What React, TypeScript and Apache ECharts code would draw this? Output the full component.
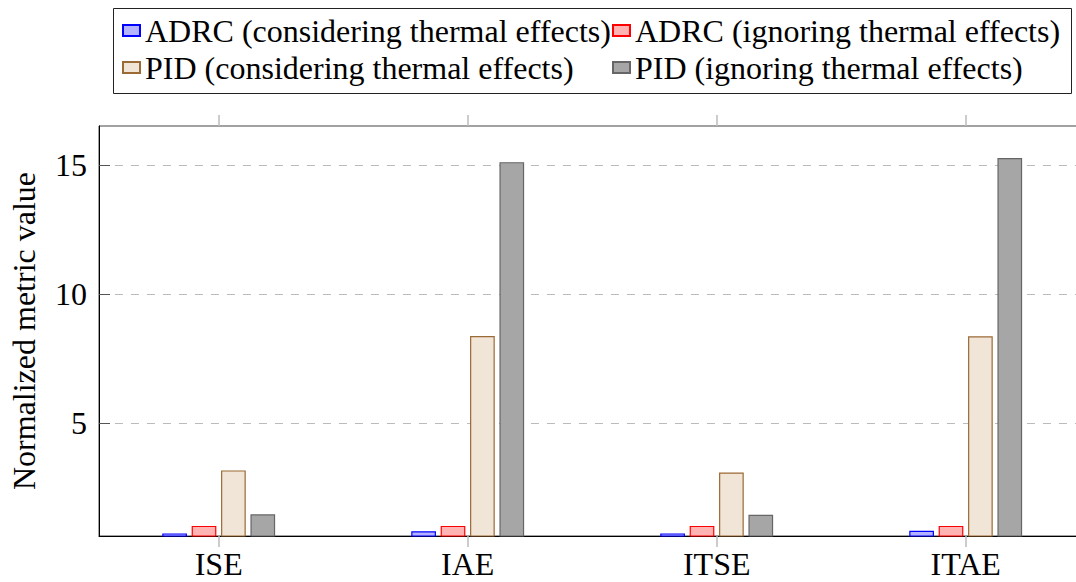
import React, { useEffect, useRef } from "react";
import * as echarts from "echarts";

const categories = ["ISE", "IAE", "ITSE", "ITAE"];
const seriesNames = [
  "ADRC (considering thermal effects)",
  "ADRC (ignoring thermal effects)",
  "PID (considering thermal effects)",
  "PID (ignoring thermal effects)",
];
const adrcConsidering = [0.74, 0.82, 0.74, 0.84];
const adrcIgnoring = [1.03, 1.03, 1.03, 1.03];
const pidConsidering = [3.18, 8.38, 3.1, 8.37];
const pidIgnoring = [1.48, 15.11, 1.46, 15.27];
const yTicks = [5, 10, 15];
const yMin = 0.64;
const yMax = 16.51;
const yTitle = "Normalized metric value";

const FONT = "'Liberation Serif', 'Times New Roman', serif";
const FS = 32;

export default function App() {
  const ref = useRef<HTMLDivElement>(null);
  useEffect(() => {
    if (!ref.current) return;
    const chart = echarts.init(ref.current, null, { renderer: "svg" });
    const styles = [
      { color: "#b3b3ff", borderColor: "#0000ff" },
      { color: "#ffb3b3", borderColor: "#ff0000" },
      { color: "#f1e5d8", borderColor: "#9c6a35" },
      { color: "#a6a6a6", borderColor: "#666666" },
    ];
    const values = [adrcConsidering, adrcIgnoring, pidConsidering, pidIgnoring];
    const legendBase = {
      orient: "vertical" as const,
      top: 12,
      icon: "rect",
      itemWidth: 17,
      itemHeight: 11,
      itemGap: 0,
      padding: 0,
      selectedMode: false,
      textStyle: { fontSize: FS, lineHeight: 37, fontFamily: FONT, color: "#000" },
    };
    chart.setOption({
      animation: false,
      backgroundColor: "#fff",
      textStyle: { fontFamily: FONT },
      grid: [
        { left: 99, top: 126, width: 986, height: 410, show: true, borderColor: "#444", borderWidth: 1, backgroundColor: "transparent", outerBoundsMode: "none", containLabel: false },
        { left: 94.2, top: 126, width: 996, height: 410, outerBoundsMode: "none", containLabel: false },
      ],
      legend: [
        { ...legendBase, left: 122, data: [seriesNames[0], seriesNames[2]] },
        { ...legendBase, left: 612, data: [seriesNames[1], seriesNames[3]] },
      ],
      xAxis: [
        {
          gridIndex: 0,
          type: "value",
          min: 0,
          max: 1,
          axisLine: { show: true, lineStyle: { color: "#000", width: 1 } },
          axisTick: { show: false },
          axisLabel: { show: false },
          splitLine: { show: false },
        },
        {
          gridIndex: 1,
          type: "category",
          data: categories,
          position: "bottom",
          axisLine: { show: false },
          axisTick: { show: true, alignWithLabel: true, length: 11, lineStyle: { color: "#bbb", width: 1.5 } },
          axisLabel: { fontSize: FS, lineHeight: 30, fontFamily: FONT, color: "#000", margin: 13 },
          splitLine: { show: false },
        },
        {
          gridIndex: 1,
          type: "category",
          data: categories,
          position: "top",
          axisLine: { show: false },
          axisTick: { show: true, alignWithLabel: true, length: 11, lineStyle: { color: "#bbb", width: 1.5 } },
          axisLabel: { show: false },
          splitLine: { show: false },
        },
      ],
      yAxis: [
        {
          gridIndex: 0,
          type: "value",
          min: yMin,
          max: yMax,
          axisLine: { show: true, lineStyle: { color: "#000", width: 1 } },
          axisTick: { show: true, inside: true, length: 11, customValues: yTicks, lineStyle: { color: "#555", width: 1 } },
          axisLabel: { customValues: yTicks, fontSize: FS, fontFamily: FONT, color: "#000", margin: 12 },
          splitLine: { show: true, lineStyle: { color: "#bbb", type: [8, 8], width: 1 } },
        },
        {
          gridIndex: 1,
          type: "value",
          min: yMin,
          max: yMax,
          show: false,
          splitLine: { show: false },
        },
      ],
      series: values.map((v, i) => ({
        name: seriesNames[i],
        type: "bar",
        xAxisIndex: 1,
        yAxisIndex: 1,
        data: v,
        barWidth: 24.7,
        barGap: "19%",
        z: 3,
        itemStyle: { color: styles[i].color, borderColor: styles[i].borderColor, borderWidth: 1.2 },
      })),
      graphic: [
        {
          type: "rect",
          shape: { x: 113.5, y: 8.5, width: 958, height: 85 },
          style: { fill: "none", stroke: "#222", lineWidth: 1 },
          z: 10,
        },
        {
          type: "text",
          x: 24,
          y: 331,
          rotation: Math.PI / 2,
          style: {
            text: yTitle,
            fontSize: FS,
            fontFamily: FONT,
            fill: "#000",
            align: "center",
            verticalAlign: "middle",
          },
        },
      ],
    });
    return () => chart.dispose();
  }, []);
  return (
    <div
      ref={ref}
      style={{ position: "fixed", left: 0, top: 0, width: 1076, height: 582, background: "#fff" }}
    />
  );
}
